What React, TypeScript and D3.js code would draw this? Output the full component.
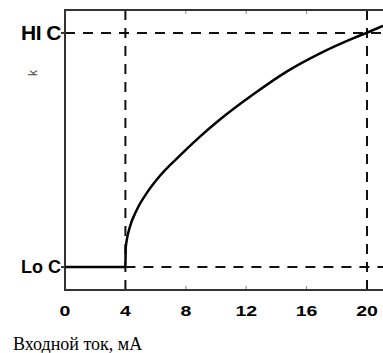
import React from 'react';
import * as d3 from 'd3';

// input current (mA) and normalized output (0 = Lo C, 1 = HI C)
const currentMa = [0, 4, 4.02, 4.09, 4.3, 4.75, 5.41, 6.29, 7.62, 8.94, 10.26, 12.45, 14.68, 16.89, 19.07, 20.07, 21.06];
const outputLevel = [0, 0, 0.08, 0.115, 0.172, 0.244, 0.316, 0.39, 0.477, 0.557, 0.63, 0.737, 0.835, 0.913, 0.977, 1.003, 1.03];
const xTicks = [0, 4, 8, 12, 16, 20];
const levelValues = [0, 1];
const levelLabels = ['Lo C', 'HI C'];
const markerCurrents = [4, 20];
const xTitle = 'Входной ток, мА';

const W = 383;
const H = 353;

const App = () => {
  const x = d3.scaleLinear().domain([0, 22]).range([65, 65 + 22 * 15.1]);
  const y = d3.scaleLinear().domain([-0.098, 1.098]).range([290, 10]);

  const pts = currentMa.map((c, i) => [c, outputLevel[i]] as [number, number]);
  const line = d3
    .line<[number, number]>()
    .x(d => x(d[0]))
    .y(d => y(d[1]))
    .curve(d3.curveMonotoneX);

  const top = y.range()[1];
  const bottom = y.range()[0];
  const left = x(0);
  const right = W + 10;
  const dash = '10 8';

  return (
    <div style={{ position: 'fixed', left: 0, top: 0 }}>
      <svg width={W} height={H} style={{ display: 'block' }}>
        <rect width={W} height={H} fill="#fff" />

        {/* faint inner ticks */}
        {xTicks.slice(1).map(t => (
          <g key={'t' + t} stroke="#888" strokeWidth={1}>
            <line x1={x(t)} x2={x(t)} y1={bottom} y2={bottom - 4} />
            <line x1={x(t)} x2={x(t)} y1={top} y2={top + 4} />
          </g>
        ))}

        {/* dashed reference lines */}
        <g stroke="#111" strokeWidth={2} strokeDasharray={dash} fill="none">
          <line x1={left} x2={right} y1={y(1)} y2={y(1)} />
          <line x1={x(4)} x2={right} y1={y(0)} y2={y(0)} />
          {markerCurrents.map(c => (
            <line key={'m' + c} x1={x(c)} x2={x(c)} y1={top} y2={bottom} />
          ))}
        </g>

        {/* frame */}
        <g stroke="#333" strokeWidth={2} fill="none">
          <line x1={left} x2={right} y1={top} y2={top} />
          <line x1={left} x2={right} y1={bottom} y2={bottom} />
          <line x1={left} x2={left} y1={top - 1} y2={bottom + 1} />
        </g>

        {/* response curve */}
        <path d={line(pts) || ''} fill="none" stroke="#000" strokeWidth={2.5} />

        {/* level labels */}
        {levelValues.map((v, i) => (
          <g key={'l' + v}>
            <line x1={left - 4} x2={left} y1={y(v)} y2={y(v)} stroke="#333" strokeWidth={2} />
            <text
              x={left - 4}
              y={y(v)}
              dy="0.35em"
              textAnchor="end"
              fontFamily="Liberation Sans, Arial, sans-serif"
              fontWeight="bold"
              fontSize={i === 1 ? 21 : 18}
              letterSpacing={i === 1 ? -0.5 : 0}
              fill="#000"
            >
              {levelLabels[i]}
            </text>
          </g>
        ))}

        <text
          transform="translate(37,73) rotate(-90)"
          textAnchor="middle"
          fontFamily="Liberation Sans, Arial, sans-serif"
          fontSize={12}
          fill="#444"
        >
          k
        </text>

        {/* x tick labels (the original face is wide, so stretch horizontally) */}
        {xTicks.map(t => (
          <text
            key={'x' + t}
            transform={`translate(${x(t)},316) scale(1.3,1)`}
            textAnchor="middle"
            fontFamily="Liberation Sans, Arial, sans-serif"
            fontWeight="bold"
            fontSize={15}
            fill="#000"
          >
            {t}
          </text>
        ))}

        <text x={13} y={350} fontFamily="Liberation Serif, Times New Roman, serif" fontSize={18} fill="#000">
          {xTitle}
        </text>
      </svg>
    </div>
  );
};

export default App;
